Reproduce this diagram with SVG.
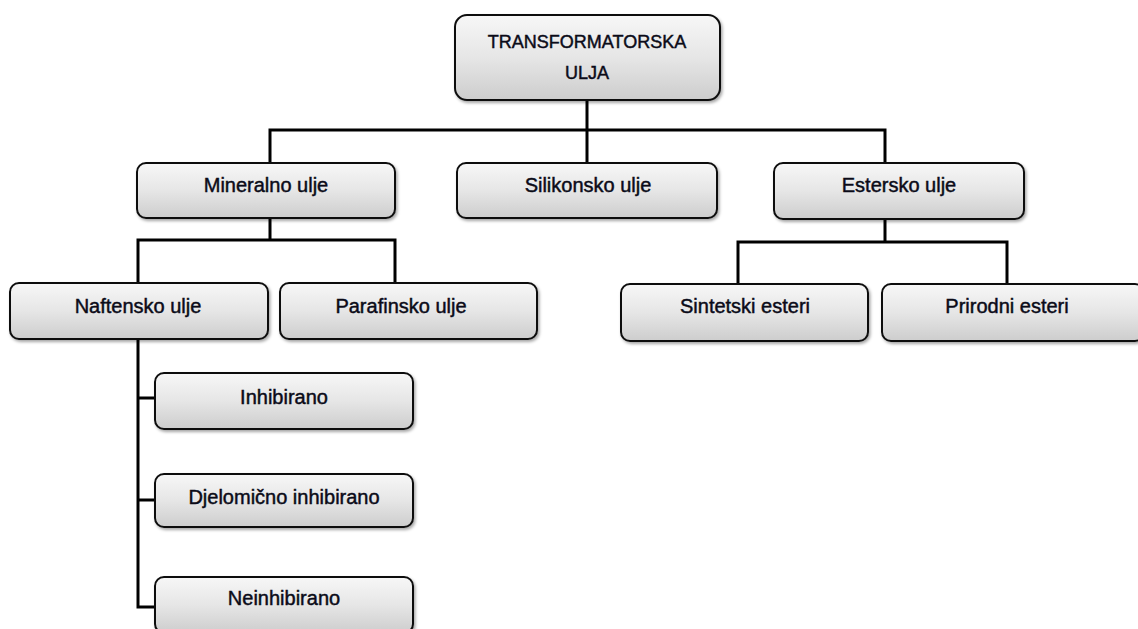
<svg xmlns="http://www.w3.org/2000/svg" width="1138" height="629" viewBox="0 0 1138 629">
<style>
.box{fill:url(#g);stroke:#111;stroke-width:2;filter:url(#sh)}
.t{font-family:"Liberation Sans",Arial,sans-serif;font-size:20px;fill:#0b0b18;text-anchor:middle;stroke:#0b0b18;stroke-width:0.45px}
.h{font-size:18px}
.c{fill:none;stroke:#000;stroke-width:3;stroke-linecap:square}
</style>
<defs>
<linearGradient id="g" x1="0" y1="0" x2="0" y2="1">
<stop offset="0" stop-color="#f7f7f7"/>
<stop offset="0.5" stop-color="#e6e6e6"/>
<stop offset="1" stop-color="#cdcdcd"/>
</linearGradient>
<filter id="sh" x="-10%" y="-10%" width="120%" height="130%">
<feDropShadow dx="1.5" dy="2" stdDeviation="1.5" flood-color="#000" flood-opacity="0.35"/>
</filter>
</defs>
<rect width="1138" height="629" fill="#fff"/>
<g id="connectors">
<path class="c" d="M587 100V130M270 130H885M270 130V163M587 130V163M885 130V163"/>
<path class="c" d="M270 218V240M138 240H395M138 240V283M395 240V283"/>
<path class="c" d="M885 219V242M738 242H1007M738 242V284M1007 242V284"/>
<path class="c" d="M138 339V607M138 398H155M138 500H155M138 607H155"/>
</g>
<g id="root"><rect class="box" x="455" y="15" width="265" height="85" rx="12"/><text class="t h" x="587" y="48">TRANSFORMATORSKA</text><text class="t h" x="587" y="79">ULJA</text></g>
<g id="mineralno"><rect class="box" x="137" y="163" width="258" height="55" rx="9"/><text class="t" x="266" y="192">Mineralno ulje</text></g>
<g id="silikonsko"><rect class="box" x="457" y="163" width="260" height="55" rx="9"/><text class="t" x="588" y="192">Silikonsko ulje</text></g>
<g id="estersko"><rect class="box" x="774" y="163" width="250" height="56" rx="9"/><text class="t" x="899" y="192">Estersko ulje</text></g>
<g id="naftensko"><rect class="box" x="10" y="283" width="258" height="56" rx="9"/><text class="t" x="138" y="313">Naftensko ulje</text></g>
<g id="parafinsko"><rect class="box" x="280" y="283" width="257" height="56" rx="9"/><text class="t" x="401" y="313">Parafinsko ulje</text></g>
<g id="sintetski"><rect class="box" x="621" y="284" width="247" height="57" rx="9"/><text class="t" x="745" y="313">Sintetski esteri</text></g>
<g id="prirodni"><rect class="box" x="882" y="284" width="262" height="57" rx="9"/><text class="t" x="1007" y="313">Prirodni esteri</text></g>
<g id="inhibirano"><rect class="box" x="155" y="373" width="258" height="56" rx="9"/><text class="t" x="284" y="404">Inhibirano</text></g>
<g id="djelomicno"><rect class="box" x="155" y="474" width="258" height="53" rx="9"/><text class="t" x="284" y="504">Djelomično inhibirano</text></g>
<g id="neinhibirano"><rect class="box" x="155" y="577" width="258" height="56" rx="9"/><text class="t" x="284" y="605">Neinhibirano</text></g>
</svg>
